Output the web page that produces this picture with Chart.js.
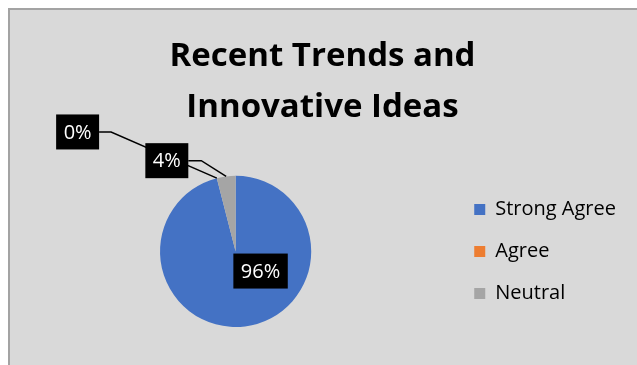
<!DOCTYPE html>
<html>
<head>
<meta charset="utf-8">
<script src="https://cdn.jsdelivr.net/npm/chart.js@4"></script>
<style>
  html, body { margin: 0; padding: 0; background: #fff; overflow: hidden; }
  #frame { position: absolute; left: 8px; top: 8px; width: 660px; height: 380px; border: 2px solid #a3a3a3; background: #d9d9d9; }
  #wrap { position: absolute; left: 0; top: 0; width: 637px; height: 365px; }
</style>
</head>
<body>
<div id="frame"></div>
<div id="wrap"><canvas id="chart"></canvas></div>
<script>
const titleLines = ['Recent Trends and', 'Innovative Ideas'];
const categories = ['Strong Agree', 'Agree', 'Neutral'];
const shares = [96, 0, 4];
const sliceColors = ['#4472c4', '#ed7d31', '#a5a5a5'];

// where each data label sits, in pie radii from the centre; leader = elbow length
const labelLayout = [
  { dx: 0.33, dy: 0.26, leader: 0 },
  { dx: -2.09, dy: -1.58, leader: 12 },
  { dx: -0.91, dy: -1.2, leader: 13 },
];
const drawOrder = [0, 1, 2];

Chart.defaults.font.family = 'Open Sans';

const boxedLabels = {
  id: 'boxedLabels',
  afterDatasetsDraw(chart) {
    const { ctx } = chart;
    const arcs = chart.getDatasetMeta(0).data;
    const total = shares.reduce((sum, value) => sum + value, 0);
    ctx.save();
    ctx.font = '20px "Open Sans"';
    const boxes = arcs.map((arc, i) => {
      const text = `${Math.round((shares[i] / total) * 100)}%`;
      const r = arc.outerRadius;
      const w = ctx.measureText(text).width + 15;
      const h = 35;
      const cx = arc.x + labelLayout[i].dx * r;
      const cy = arc.y + labelLayout[i].dy * r;
      return { text, cx, cy, w, h, arc };
    });

    // leader lines first, so boxes cover them
    ctx.strokeStyle = '#000';
    ctx.lineWidth = 1.5;
    boxes.forEach((box, i) => {
      const elbow = labelLayout[i].leader;
      if (!elbow) return;
      const arc = box.arc;
      const mid = (arc.startAngle + arc.endAngle) / 2;
      const ex = arc.x + arc.outerRadius * Math.cos(mid);
      const ey = arc.y + arc.outerRadius * Math.sin(mid);
      const right = box.cx + box.w / 2;
      ctx.beginPath();
      ctx.moveTo(right, box.cy);
      ctx.lineTo(right + elbow, box.cy);
      ctx.lineTo(ex, ey);
      ctx.stroke();
    });

    ctx.textAlign = 'center';
    ctx.textBaseline = 'middle';
    drawOrder.forEach((i) => {
      const box = boxes[i];
      ctx.fillStyle = '#000';
      ctx.fillRect(box.cx - box.w / 2, box.cy - box.h / 2, box.w, box.h);
      ctx.fillStyle = '#fff';
      ctx.fillText(box.text, box.cx, box.cy + 1);
    });
    ctx.restore();
  },
};

new Chart(document.getElementById('chart'), {
  type: 'pie',
  data: {
    labels: categories,
    datasets: [
      {
        data: shares,
        backgroundColor: sliceColors,
        borderWidth: 0,
      },
    ],
  },
  options: {
    responsive: true,
    maintainAspectRatio: false,
    animation: false,
    layout: { padding: { left: 19, right: 11, top: 0, bottom: 38 } },
    plugins: {
      title: {
        display: true,
        text: titleLines,
        color: '#000',
        font: { size: 33, weight: 'bold', family: 'Open Sans', lineHeight: 1.55 },
        padding: { top: 31, bottom: 42.5 },
      },
      legend: {
        position: 'right',
        fullSize: false,
        labels: {
          boxWidth: 11,
          boxHeight: 11,
          padding: 22,
          color: '#000',
          font: { size: 20, family: 'Open Sans' },
        },
      },
      tooltip: { enabled: false },
    },
  },
  plugins: [boxedLabels],
});
</script>
</body>
</html>
